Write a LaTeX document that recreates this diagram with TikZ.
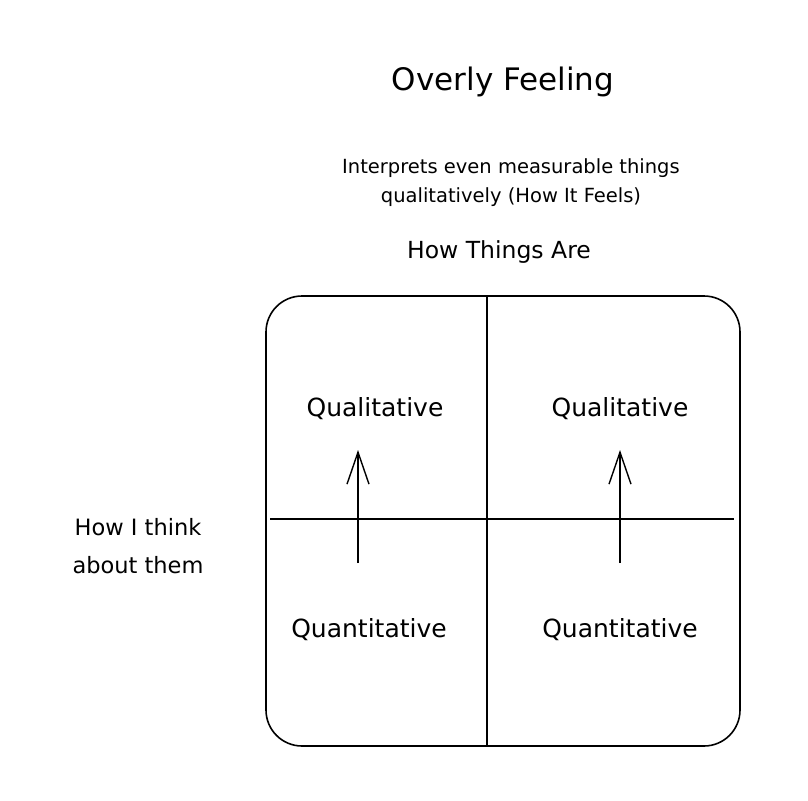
\documentclass[tikz,border=0pt]{standalone}
\usepackage{fontspec}
\setmainfont{DejaVu Sans}
\usetikzlibrary{arrows.meta}

\begin{document}
\begin{tikzpicture}[x=1pt,y=-1pt,
    label/.style={inner sep=0pt,font=\fontsize{25}{30}\selectfont},
    up/.style={line width=1.4pt,-{Straight Barb[length=32pt,width=22pt,line width=1.4pt]}}]
    \useasboundingbox (0,0) rectangle (808,800);
    % titles
    \node[inner sep=0pt,font=\fontsize{31}{36}\selectfont] (title) at (503,82) {Overly Feeling};
    \node[inner sep=0pt,align=center,font=\fontsize{19.5}{29}\selectfont] (sub) at (511,183) {Interprets even measurable things\\qualitatively (How It Feels)};
    \node[inner sep=0pt,font=\fontsize{23.5}{28}\selectfont] (things) at (499,252) {How Things Are};
    \node[inner sep=0pt,align=center,font=\fontsize{22.5}{38}\selectfont] (think) at (138,546) {How I think\\about them};
    % grid
    \draw[line width=1.6pt,rounded corners=36pt] (266,296) rectangle (740,746);
    \draw[line width=1.4pt] (487,297) -- (487,746);
    \draw[line width=1.4pt] (270,519) -- (734,519);
    % quadrants
    \node[label] (ql) at (375,409) {Qualitative};
    \node[label] (qr) at (620,409) {Qualitative};
    \node[label] (nl) at (369,630) {Quantitative};
    \node[label] (nr) at (620,630) {Quantitative};
    \coordinate (al) at (358,563);
    \coordinate (ar) at (620,563);
    \coordinate (bl) at (358,450);
    \coordinate (br) at (620,450);
    \draw[up] (al) -- (bl);
    \draw[up] (ar) -- (br);
\end{tikzpicture}
\end{document}
